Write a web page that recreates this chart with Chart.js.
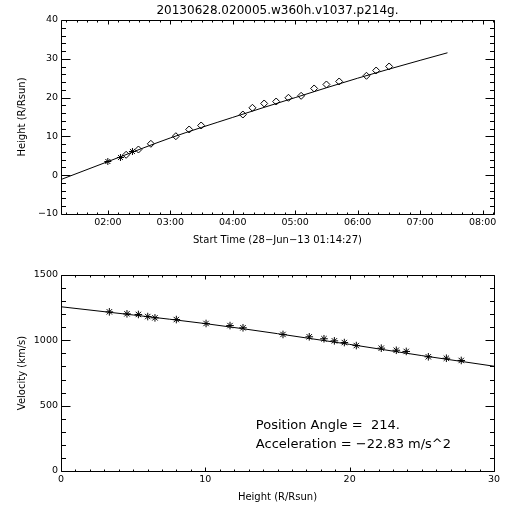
<!DOCTYPE html>
<html><head><meta charset="utf-8">
<script src="https://cdn.jsdelivr.net/npm/chart.js@4/dist/chart.umd.min.js"></script>
<style>
html,body{margin:0;padding:0;background:#fff;}
#wrap{position:relative;width:512px;height:512px;background:#fff;}
canvas{position:absolute;left:0;}
</style></head><body>
<div id="wrap">
<canvas id="topChart" width="512" height="256" style="top:0"></canvas>
<canvas id="botChart" width="512" height="256" style="top:256px"></canvas>
</div>
<script>
// ---------- data ----------
const titleText = '20130628.020005.w360h.v1037.p214g.';
const timeAxisTitle = 'Start Time (28\u2212Jun\u221213 01:14:27)';
const heightAxisTitle = 'Height (R/Rsun)';
const velocityAxisTitle = 'Velocity (km/s)';

// observed height vs time (hours of day)
const timeHours = [2.000, 2.202, 2.293, 2.394, 2.490, 2.689, 3.089, 3.302, 3.494, 4.162, 4.315,
                   4.503, 4.695, 4.892, 5.095, 5.303, 5.500, 5.704, 6.141, 6.296, 6.504];
const heightObs = [3.53, 4.56, 5.26, 6.11, 6.62, 8.09, 10.05, 11.78, 12.81, 15.64, 17.37,
                   18.48, 18.99, 19.95, 20.46, 22.35, 23.38, 24.15, 25.62, 26.98, 28.02];
const heightSymbols = ['star','star','rectRot','star','rectRot','rectRot','rectRot','rectRot','rectRot','rectRot','rectRot',
                       'rectRot','rectRot','rectRot','rectRot','rectRot','rectRot','rectRot','rectRot','rectRot','rectRot'];
// fitted height curve
const fitTime   = [1.25, 2, 3, 4, 5, 6, 7, 7.438];
const fitHeight = [-1.11, 3.5, 9.6, 14.9, 20.0, 25.0, 29.6, 31.55];

const timeTicks = [2, 3, 4, 5, 6, 7, 8];
const timeTickLabels = ['02:00','03:00','04:00','05:00','06:00','07:00','08:00'];
const heightTicks = [-10, 0, 10, 20, 30, 40];
const heightTickLabels = ['\u221210','0','10','20','30','40'];

// velocity vs height
const velHeight = [3.35, 4.57, 5.36, 6.01, 6.51, 7.99, 10.05, 11.71, 12.61, 15.38, 17.20,
                   18.22, 18.94, 19.63, 20.46, 22.19, 23.23, 23.92, 25.45, 26.70, 27.73];
const velocity  = [1218, 1203, 1198, 1182, 1172, 1159, 1129, 1113, 1096, 1045, 1027,
                   1012, 996, 983, 960, 940, 924, 915, 874, 863, 846];
const velFitHeight = [0, 5, 10, 15, 20, 25, 30];
const velFit       = [1257, 1194, 1128, 1051, 969, 883, 802];

const hTicks = [0, 10, 20, 30];
const hTickLabels = ['0','10','20','30'];
const vTicks = [0, 500, 1000, 1500];
const vTickLabels = ['0','500','1000','1500'];

const annotationLines = ['Position Angle =  214.', 'Acceleration = \u221222.83 m/s^2'];

// ---------- helpers ----------
const FONT = 'DejaVu Sans';
Chart.defaults.color = '#000';
Chart.defaults.font.family = FONT;

const framePlugin = {
  id: 'frame',
  afterDatasetsDraw(chart, args, o) {
    const {ctx, chartArea: a} = chart;
    const xs = chart.scales.x, ys = chart.scales.y;
    const L = Math.round(a.left) + 0.5, R = Math.round(a.right) + 0.5;
    const T = Math.round(a.top) + 0.5, B = Math.round(a.bottom) + 0.5;
    ctx.save();
    ctx.strokeStyle = '#000';
    ctx.lineWidth = 1;
    ctx.beginPath();
    ctx.rect(L, T, R - L, B - T);
    const isMajor = (v, arr) => arr.some(m => Math.abs(m - v) < 1e-6);
    for (let k = Math.ceil(xs.min / o.xMinor - 1e-9); k * o.xMinor <= xs.max + 1e-9; k++) {
      const v = k * o.xMinor;
      const len = isMajor(v, o.xMajor) ? o.xLen : o.xLen / 2;
      const px = Math.round(xs.getPixelForValue(v)) + 0.5;
      ctx.moveTo(px, B); ctx.lineTo(px, B - len);
      ctx.moveTo(px, T); ctx.lineTo(px, T + len);
    }
    for (let k = Math.ceil(ys.min / o.yMinor - 1e-9); k * o.yMinor <= ys.max + 1e-9; k++) {
      const v = k * o.yMinor;
      const len = isMajor(v, o.yMajor) ? o.yLen : o.yLen / 2;
      const py = Math.round(ys.getPixelForValue(v)) + 0.5;
      ctx.moveTo(L, py); ctx.lineTo(L + len, py);
      ctx.moveTo(R, py); ctx.lineTo(R - len, py);
    }
    ctx.stroke();
    if (o.texts) {
      ctx.fillStyle = '#000';
      ctx.font = o.textFont;
      ctx.textAlign = 'left';
      ctx.textBaseline = 'middle';
      o.texts.forEach((t, i) => {
        ctx.fillText(t, xs.getPixelForValue(o.textX), ys.getPixelForValue(o.textY[i]));
      });
    }
    ctx.restore();
  }
};

function axis(min, max, ticks, labels, extra) {
  return Object.assign({
    type: 'linear', min, max,
    grid: {display: false, drawTicks: false},
    border: {display: false},
    afterBuildTicks: s => { s.ticks = ticks.map(v => ({value: v})); },
    ticks: {autoSkip: false, maxRotation: 0, color: '#000',
            font: {family: FONT, size: 9.5},
            callback: (v, i) => labels[i]}
  }, extra);
}

const common = {
  responsive: false,
  animation: false,
  events: [],
};

// ---------- top chart ----------
new Chart(document.getElementById('topChart'), {
  type: 'scatter',
  data: {datasets: [
    {data: fitTime.map((t, i) => ({x: t, y: fitHeight[i]})), showLine: true,
     borderColor: '#000', borderWidth: 1, pointRadius: 0, cubicInterpolationMode: 'monotone'},
    {data: timeHours.map((t, i) => ({x: t, y: heightObs[i]})), showLine: false,
     pointStyle: heightSymbols, pointRadius: 3.5, borderColor: '#000', borderWidth: 1,
     backgroundColor: 'rgba(0,0,0,0)'}
  ]},
  options: Object.assign({}, common, {
    layout: {padding: {left: 0, right: 18, top: 0, bottom: 0}},
    plugins: {
      legend: {display: false}, tooltip: {enabled: false},
      title: {display: true, text: titleText, fullSize: false, color: '#000',
              font: {family: FONT, size: 12, weight: 'normal'}, padding: {top: 4, bottom: 1.6}},
      frame: {xMinor: 1/6, xMajor: timeTicks, xLen: 4, yMinor: 2, yMajor: heightTicks, yLen: 9}
    },
    scales: {
      x: axis(1.25, 8.183, timeTicks, timeTickLabels, {
        afterFit: s => { s.height = 42; },
        title: {display: true, text: timeAxisTitle, color: '#000', font: {family: FONT, size: 10}, padding: {top: 0, bottom: 10}}
      }),
      y: axis(-10, 40, heightTicks, heightTickLabels, {
        afterFit: s => { s.width = 61; },
        title: {display: true, text: heightAxisTitle, color: '#000', font: {family: FONT, size: 10}, padding: {top: 16, bottom: 0}}
      })
    }
  }),
  plugins: [framePlugin]
});
Object.assign(Chart.defaults.scale.ticks, {});

// ---------- bottom chart ----------
new Chart(document.getElementById('botChart'), {
  type: 'scatter',
  data: {datasets: [
    {data: velFitHeight.map((h, i) => ({x: h, y: velFit[i]})), showLine: true,
     borderColor: '#000', borderWidth: 1, pointRadius: 0, cubicInterpolationMode: 'monotone'},
    {data: velHeight.map((h, i) => ({x: h, y: velocity[i]})), showLine: false,
     pointStyle: 'star', pointRadius: 3.8, borderColor: '#000', borderWidth: 1,
     backgroundColor: 'rgba(0,0,0,0)'}
  ]},
  options: Object.assign({}, common, {
    layout: {padding: {left: 0, right: 18, top: 19, bottom: 0}},
    plugins: {
      legend: {display: false}, tooltip: {enabled: false}, title: {display: false},
      frame: {xMinor: 1, xMajor: hTicks, xLen: 4, yMinor: 100, yMajor: vTicks, yLen: 9,
              texts: annotationLines, textX: 13.5, textY: [350, 200], textFont: '13px "DejaVu Sans"'}
    },
    scales: {
      x: axis(0, 30, hTicks, hTickLabels, {
        afterFit: s => { s.height = 41; },
        title: {display: true, text: heightAxisTitle, color: '#000', font: {family: FONT, size: 10}, padding: {top: 0, bottom: 9}}
      }),
      y: axis(0, 1500, vTicks, vTickLabels, {
        afterFit: s => { s.width = 61; },
        title: {display: true, text: velocityAxisTitle, color: '#000', font: {family: FONT, size: 10}, padding: {top: 16, bottom: 0}}
      })
    }
  }),
  plugins: [framePlugin]
});
</script>
</body></html>
